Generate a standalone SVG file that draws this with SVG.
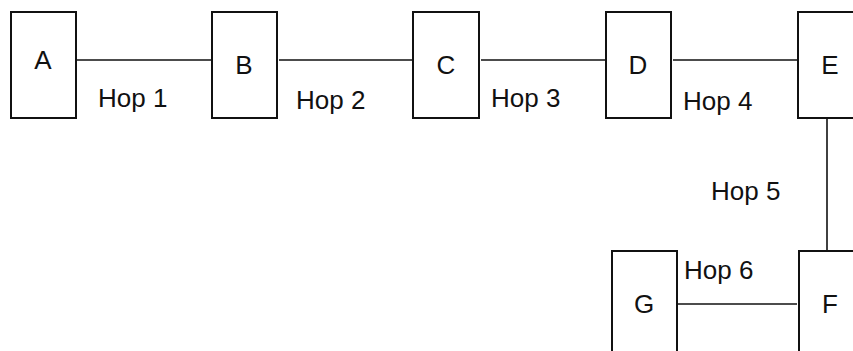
<svg xmlns="http://www.w3.org/2000/svg" width="853" height="351" viewBox="0 0 853 351">
  <style>
    .box { fill: #ffffff; stroke: #111111; stroke-width: 2; }
    .link { stroke: #111111; stroke-width: 1.6; fill: none; }
    .lbl { font-family: "Liberation Sans", Arial, sans-serif; font-size: 26px; fill: #111111; text-anchor: middle; }
    .hop { font-family: "Liberation Sans", Arial, sans-serif; font-size: 26px; fill: #111111; }
  </style>
  <rect width="853" height="351" fill="#ffffff"/>

  <!-- links between nodes -->
  <g id="connectors">
    <line class="link" x1="77" y1="60" x2="212" y2="60"/>
    <line class="link" x1="279" y1="60" x2="413" y2="60"/>
    <line class="link" x1="481" y1="60" x2="606" y2="60"/>
    <line class="link" x1="673" y1="60" x2="798" y2="60"/>
    <line class="link" x1="827" y1="117" x2="827" y2="251"/>
    <line class="link" x1="674" y1="304" x2="797" y2="304"/>
  </g>

  <!-- hop labels -->
  <g id="hop-labels">
    <text class="hop" x="98" y="107">Hop 1</text>
    <text class="hop" x="296" y="109">Hop 2</text>
    <text class="hop" x="491" y="107">Hop 3</text>
    <text class="hop" x="683" y="110">Hop 4</text>
    <text class="hop" x="711" y="200">Hop 5</text>
    <text class="hop" x="684" y="279">Hop 6</text>
  </g>

  <g id="node-A">
    <rect class="box" x="11" y="12" width="65" height="106"/>
    <text class="lbl" x="43" y="69">A</text>
  </g>
  <g id="node-B">
    <rect class="box" x="212" y="12" width="65" height="106"/>
    <text class="lbl" x="244" y="74">B</text>
  </g>
  <g id="node-C">
    <rect class="box" x="413" y="12" width="66" height="106"/>
    <text class="lbl" x="446" y="74">C</text>
  </g>
  <g id="node-D">
    <rect class="box" x="606" y="12" width="65" height="106"/>
    <text class="lbl" x="638" y="74">D</text>
  </g>
  <g id="node-E">
    <rect class="box" x="798" y="12" width="65" height="106"/>
    <text class="lbl" x="830" y="74">E</text>
  </g>
  <g id="node-F">
    <rect class="box" x="799" y="251" width="65" height="106"/>
    <text class="lbl" x="830" y="313">F</text>
  </g>
  <g id="node-G">
    <rect class="box" x="612" y="251" width="65" height="106"/>
    <text class="lbl" x="644" y="313">G</text>
  </g>
</svg>
